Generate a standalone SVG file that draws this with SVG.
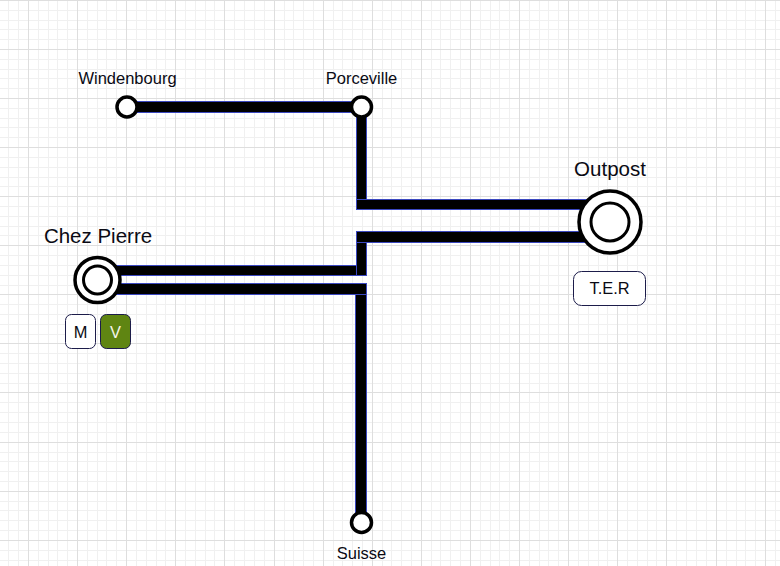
<svg xmlns="http://www.w3.org/2000/svg" width="780" height="566" viewBox="0 0 780 566">
<style>
text{font-family:"Liberation Sans",Arial,sans-serif;fill:#0a0a14;text-anchor:middle}
.small{font-size:16.5px}
.big{font-size:20.5px}
.badge{font-size:16.4px}
.minor{stroke:#f0f0f0;stroke-width:1;fill:none}
.major{stroke:#dedede;stroke-width:1;fill:none}
.track{fill:#000;stroke:#3b48c0;stroke-width:1}
.st{fill:#fff;stroke:#000;stroke-width:3.5}
.st2{fill:#fff;stroke:#000;stroke-width:3}
.bd{fill:#fff;stroke:#1c1c4a;stroke-width:1}
</style>
<rect width="780" height="566" fill="#fff"/>
<g id="grid">
<path class="minor" d="M8.5 0V566M18.5 0V566M38.5 0V566M48.5 0V566M57.5 0V566M67.5 0V566M87.5 0V566M97.5 0V566M106.5 0V566M116.5 0V566M136.5 0V566M146.5 0V566M156.5 0V566M165.5 0V566M185.5 0V566M195.5 0V566M205.5 0V566M214.5 0V566M234.5 0V566M244.5 0V566M254.5 0V566M264.5 0V566M284.5 0V566M293.5 0V566M303.5 0V566M313.5 0V566M333.5 0V566M342.5 0V566M352.5 0V566M362.5 0V566M382.5 0V566M391.5 0V566M401.5 0V566M411.5 0V566M431.5 0V566M440.5 0V566M450.5 0V566M460.5 0V566M480.5 0V566M490.5 0V566M499.5 0V566M509.5 0V566M529.5 0V566M539.5 0V566M548.5 0V566M558.5 0V566M578.5 0V566M588.5 0V566M598.5 0V566M607.5 0V566M627.5 0V566M637.5 0V566M647.5 0V566M656.5 0V566M676.5 0V566M686.5 0V566M696.5 0V566M706.5 0V566M726.5 0V566M736.5 0V566M745.5 0V566M755.5 0V566M775.5 0V566M0 10.5H780M0 20.5H780M0 29.5H780M0 39.5H780M0 59.5H780M0 69.5H780M0 78.5H780M0 88.5H780M0 108.5H780M0 118.5H780M0 127.5H780M0 137.5H780M0 157.5H780M0 167.5H780M0 177.5H780M0 186.5H780M0 206.5H780M0 216.5H780M0 226.5H780M0 235.5H780M0 255.5H780M0 265.5H780M0 275.5H780M0 285.5H780M0 304.5H780M0 314.5H780M0 324.5H780M0 334.5H780M0 353.5H780M0 363.5H780M0 373.5H780M0 383.5H780M0 402.5H780M0 412.5H780M0 422.5H780M0 432.5H780M0 452.5H780M0 461.5H780M0 471.5H780M0 481.5H780M0 501.5H780M0 510.5H780M0 520.5H780M0 530.5H780M0 550.5H780M0 560.5H780"/>
<path class="major" d="M28.5 0V566M77.5 0V566M126.5 0V566M175.5 0V566M224.5 0V566M274.5 0V566M323.5 0V566M372.5 0V566M421.5 0V566M470.5 0V566M519.5 0V566M568.5 0V566M617.5 0V566M666.5 0V566M716.5 0V566M765.5 0V566M0 .5H780M0 49.5H780M0 98.5H780M0 147.5H780M0 196.5H780M0 245.5H780M0 294.5H780M0 343.5H780M0 392.5H780M0 442.5H780M0 491.5H780M0 540.5H780"/>
</g>
<g id="connectors">
<rect class="track" x="127" y="101.5" width="235" height="11"/>
<rect class="track" x="356.5" y="107" width="10" height="93"/>
<rect class="track" x="356.5" y="199.5" width="235" height="10"/>
<rect class="track" x="356.5" y="231.5" width="235" height="11"/>
<rect class="track" x="356.5" y="242.5" width="10" height="33"/>
<rect class="track" x="98" y="265.5" width="258.5" height="10"/>
<rect class="track" x="98" y="283.5" width="268.5" height="11"/>
<rect class="track" x="355.5" y="294.5" width="11" height="228"/>
</g>
<g id="windenbourg"><circle class="st" cx="127" cy="107" r="10"/><text class="small" x="127.500" y="84">Windenbourg</text></g>
<g id="porceville"><circle class="st" cx="361.500" cy="107" r="10"/><text class="small" x="361.500" y="84">Porceville</text></g>
<g id="suisse"><circle class="st" cx="361.500" cy="522.500" r="10"/><text class="small" x="361.500" y="559">Suisse</text></g>
<g id="chez-pierre">
<circle class="st" cx="97.500" cy="280" r="22.500"/><circle class="st2" cx="97.500" cy="280" r="14"/>
<text class="big" x="98" y="243">Chez Pierre</text>
</g>
<g id="outpost">
<circle class="st" cx="610" cy="222" r="31"/><circle class="st2" cx="610" cy="222" r="19"/>
<text class="big" x="610" y="176">Outpost</text>
</g>
<g id="badge-m"><rect class="bd" x="65.500" y="314.500" width="30" height="34" rx="6"/><text class="badge" x="80.500" y="338">M</text></g>
<g id="badge-v"><rect class="bd" x="100.500" y="314.500" width="30" height="34" rx="6" style="fill:#5f8512"/><text class="badge" x="115.500" y="338" style="fill:#f4f4e8">V</text></g>
<g id="badge-ter"><rect class="bd" x="573.500" y="271.500" width="72" height="34" rx="8"/><text class="badge" x="609.500" y="294">T.E.R</text></g>
</svg>
